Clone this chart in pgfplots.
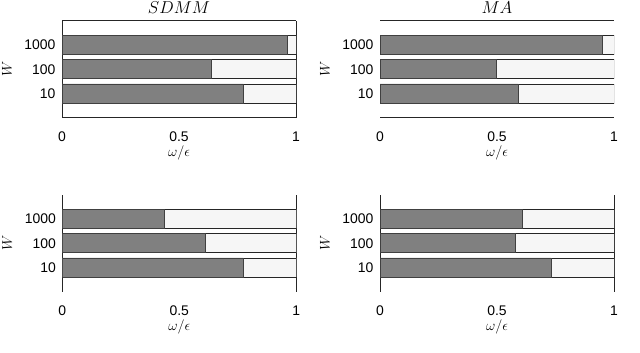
\documentclass[border=0pt]{standalone}
\usepackage{pgfplots}
\pgfplotsset{compat=1.18}
\usepackage{fontspec}
\setmainfont{Liberation Sans}
\definecolor{darkbar}{HTML}{808080}
\definecolor{lightbar}{HTML}{F6F6F6}
\pgfplotsset{
  wpanel/.style={
    scale only axis, width=234bp, height=97bp, anchor=south west,
    xbar stacked, bar width=0.78,
    xmin=0, xmax=1, ymin=0, ymax=4,
    xtick={0,0.5,1}, xticklabels={0,0.5,1},
    ytick={1,2,3}, yticklabels={10,100,1000},
    major tick length=0pt,
    /pgf/number format/assume math mode=true,
    tick label style={font=\fontsize{14}{16}\selectfont},
    xticklabel style={yshift=-10.5bp},
    yticklabel style={xshift=-3bp},
    label style={font=\fontsize{15}{17}\selectfont},
    xlabel={$\omega/\epsilon$},
    xlabel style={at={(axis description cs:0.5,0)}, anchor=center, yshift=-35.3bp},
    ylabel={$W$},
    ylabel style={at={(axis description cs:-0.235,0.5)}, anchor=center},
    title style={font=\fontsize{16}{18}\selectfont, at={(axis description cs:0.5,1)}, anchor=center, yshift=6.7bp},
    axis line style={black!85, line width=0.6bp},
    separate axis lines,
  },
  dk/.style={fill=darkbar, draw=black!75, line width=0.6bp},
  lt/.style={fill=lightbar, draw=black!85, line width=0.6bp},
}
\begin{document}
\begin{tikzpicture}
\path[use as bounding box] (0bp,0bp) rectangle (640bp,-353bp);

% SDMM
\begin{axis}[wpanel, at={(62bp,-117.7bp)}, title={$SDMM$}]
\addplot[dk] coordinates {(0.775,1) (0.640,2) (0.964,3)};
\addplot[lt] coordinates {(0.225,1) (0.360,2) (0.036,3)};
\end{axis}

% MA
\begin{axis}[wpanel, at={(380bp,-117.7bp)}, title={$MA$}, y axis line style={draw=none}]
\addplot[dk] coordinates {(0.590,1) (0.498,2) (0.950,3)};
\addplot[lt] coordinates {(0.410,1) (0.502,2) (0.050,3)};
\end{axis}

% bottom left
\begin{axis}[wpanel, at={(62.3bp,-291.7bp)}, x axis line style={draw=none}]
\addplot[dk] coordinates {(0.774,1) (0.611,2) (0.438,3)};
\addplot[lt] coordinates {(0.226,1) (0.389,2) (0.562,3)};
\end{axis}

% bottom right
\begin{axis}[wpanel, at={(380bp,-291.7bp)}, x axis line style={draw=none}]
\addplot[dk] coordinates {(0.731,1) (0.579,2) (0.610,3)};
\addplot[lt] coordinates {(0.269,1) (0.421,2) (0.390,3)};
\end{axis}
\end{tikzpicture}
\end{document}
